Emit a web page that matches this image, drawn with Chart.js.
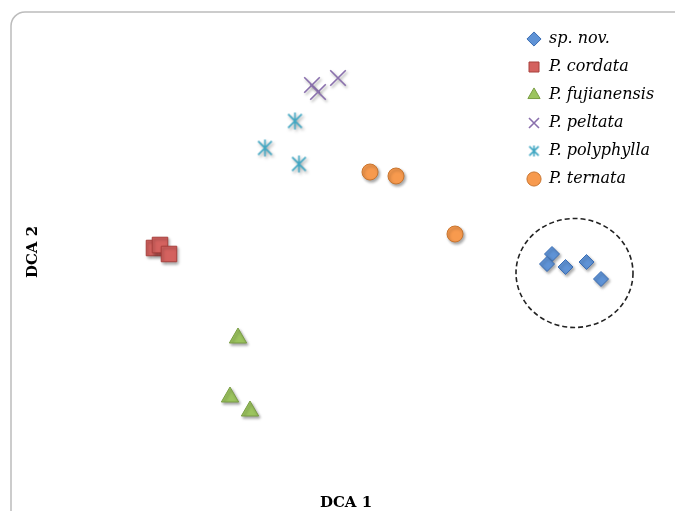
<!DOCTYPE html>
<html>
<head>
<meta charset="utf-8">
<script src="https://cdn.jsdelivr.net/npm/chart.js@4.4.1/dist/chart.umd.min.js"></script>
<style>
    html, body { margin: 0; padding: 0; background: #fff; }
    #wrap { position: relative; width: 675px; height: 511px; }
</style>
</head>
<body>
<div id="wrap"><canvas id="chartDCA"></canvas></div>
<script>
// DCA scores (axis 1 / axis 2)
const spNovX = [5.26, 5.21, 5.395, 5.605, 5.75];
const spNovY = [2.32, 2.22, 2.19, 2.24, 2.07];
const cordataX = [1.28, 1.34, 1.43];
const cordataY = [2.38, 2.41, 2.32];
const fujianensisX = [2.12, 2.04, 2.24];
const fujianensisY = [1.48, 0.89, 0.75];
const peltataX = [2.86, 2.92, 3.12];
const peltataY = [4.01, 3.94, 4.08];
const polyphyllaX = [2.69, 2.39, 2.73];
const polyphyllaY = [3.65, 3.38, 3.22];
const ternataX = [3.44, 3.70, 4.29];
const ternataY = [3.14, 3.10, 2.52];

// dashed ring round the new species (centre and radii in DCA units)
const ringCenter = [5.485, 2.13];
const ringRadius = [0.585, 0.545];

const axisRangeX = [0, 6.4];
const axisRangeY = [0, 4.68];

function toPoints(xs, ys) {
    return xs.map((x, i) => ({ x: x, y: ys[i] }));
}

// six-armed asterisk like the original marker
function makeAsterisk(size, color) {
    const c = document.createElement('canvas');
    c.width = size;
    c.height = size;
    const g = c.getContext('2d');
    const m = size / 2;
    const d = size * 0.36;
    g.strokeStyle = color;
    g.lineWidth = 1.6;
    g.beginPath();
    g.moveTo(m, 1); g.lineTo(m, size - 1);
    g.moveTo(m - d, m - d); g.lineTo(m + d, m + d);
    g.moveTo(m + d, m - d); g.lineTo(m - d, m + d);
    g.stroke();
    return c;
}
const asteriskBig = makeAsterisk(19, '#3fa6c2');
const asteriskSmall = makeAsterisk(13, '#3fa6c2');

const framePlugin = {
    id: 'frame',
    beforeDraw(chart) {
        const ctx = chart.ctx;
        ctx.save();
        ctx.strokeStyle = '#bcbcbc';
        ctx.lineWidth = 1.5;
        ctx.beginPath();
        ctx.roundRect(11, 12, 720, 560, 14);
        ctx.stroke();
        ctx.restore();
    }
};

// legend sits inside the plot, top right
const legendPlacePlugin = {
    id: 'legendPlace',
    afterLayout(chart) {
        const lg = chart.legend;
        if (!lg) return;
        lg.left = 515;
        lg.right = lg.left + lg.width;
        lg.top = 19;
        lg.bottom = lg.top + lg.height;
    }
};

const shadowRingPlugin = {
    id: 'shadowRing',
    beforeDatasetsDraw(chart) {
        const ctx = chart.ctx;
        ctx.save();
        ctx.shadowColor = 'rgba(0,0,0,0.35)';
        ctx.shadowBlur = 3;
        ctx.shadowOffsetX = 1.5;
        ctx.shadowOffsetY = 2;
    },
    afterDatasetsDraw(chart) {
        const ctx = chart.ctx;
        ctx.restore();
        const sx = chart.scales.x, sy = chart.scales.y;
        const cx = sx.getPixelForValue(ringCenter[0]);
        const cy = sy.getPixelForValue(ringCenter[1]);
        const rx = Math.abs(sx.getPixelForValue(ringCenter[0] + ringRadius[0]) - cx);
        const ry = Math.abs(sy.getPixelForValue(ringCenter[1] + ringRadius[1]) - cy);
        ctx.save();
        ctx.strokeStyle = '#222';
        ctx.lineWidth = 1.6;
        ctx.setLineDash([5, 3]);
        ctx.beginPath();
        ctx.ellipse(cx, cy, rx, ry, 0, 0, Math.PI * 2);
        ctx.stroke();
        ctx.restore();
    }
};

const titleFont = { family: 'DejaVu Serif', weight: 'bold', size: 15, lineHeight: 1 };

new Chart(document.getElementById('chartDCA'), {
    type: 'scatter',
    data: {
        datasets: [
            {
                label: 'sp. nov.',
                data: toPoints(spNovX, spNovY),
                pointStyle: 'rectRot',
                pointRadius: 7.5,
                backgroundColor: '#5f93d6',
                borderColor: '#3b6db3',
                borderWidth: 1,
                clip: false
            },
            {
                label: 'P. cordata',
                data: toPoints(cordataX, cordataY),
                pointStyle: 'rect',
                pointRadius: 11,
                backgroundColor: '#d4625f',
                borderColor: '#a8403d',
                borderWidth: 1,
                clip: false
            },
            {
                label: 'P. fujianensis',
                data: toPoints(fujianensisX, fujianensisY),
                pointStyle: 'triangle',
                pointRadius: 10,
                backgroundColor: '#9cc45f',
                borderColor: '#7a9e44',
                borderWidth: 1,
                clip: false
            },
            {
                label: 'P. peltata',
                data: toPoints(peltataX, peltataY),
                pointStyle: 'crossRot',
                pointRadius: 11,
                backgroundColor: '#8a70ad',
                borderColor: '#8a70ad',
                borderWidth: 1.6,
                clip: false
            },
            {
                label: 'P. polyphylla',
                data: toPoints(polyphyllaX, polyphyllaY),
                pointStyle: asteriskBig,
                backgroundColor: '#3fa6c2',
                borderColor: '#3fa6c2',
                clip: false
            },
            {
                label: 'P. ternata',
                data: toPoints(ternataX, ternataY),
                pointStyle: 'circle',
                pointRadius: 8,
                backgroundColor: '#f79a4e',
                borderColor: '#c9752f',
                borderWidth: 1,
                clip: false
            }
        ]
    },
    options: {
        responsive: true,
        maintainAspectRatio: false,
        animation: false,
        layout: {
            autoPadding: false,
            padding: { top: 18, left: 26, right: 9, bottom: 0 }
        },
        plugins: {
            tooltip: { enabled: false },
            legend: {
                position: 'chartArea',
                align: 'start',
                labels: {
                    usePointStyle: true,
                    boxWidth: 14,
                    boxHeight: 10,
                    padding: 12,
                    color: '#000',
                    font: { family: 'DejaVu Serif', style: 'italic', size: 16 },
                    generateLabels: (chart) => {
                        const items = Chart.defaults.plugins.legend.labels.generateLabels(chart);
                        items.forEach(it => {
                            if (it.pointStyle === asteriskBig) it.pointStyle = asteriskSmall;
                        });
                        return items;
                    }
                }
            }
        },
        scales: {
            x: {
                type: 'linear',
                position: 'bottom',
                fullSize: true,
                min: axisRangeX[0],
                max: axisRangeX[1],
                grid: { display: false, drawTicks: false },
                border: { display: false },
                ticks: { display: false },
                title: { display: true, text: 'DCA 1', color: '#000', font: titleFont, padding: { top: 10, bottom: 0 } }
            },
            y: {
                type: 'linear',
                position: 'left',
                min: axisRangeY[0],
                max: axisRangeY[1],
                grid: { display: false, drawTicks: false },
                border: { display: false },
                ticks: { display: false },
                title: { display: true, text: 'DCA 2', color: '#000', font: titleFont, padding: { top: 0, bottom: 0 } }
            }
        }
    },
    plugins: [framePlugin, legendPlacePlugin, shadowRingPlugin]
});
</script>
</body>
</html>
